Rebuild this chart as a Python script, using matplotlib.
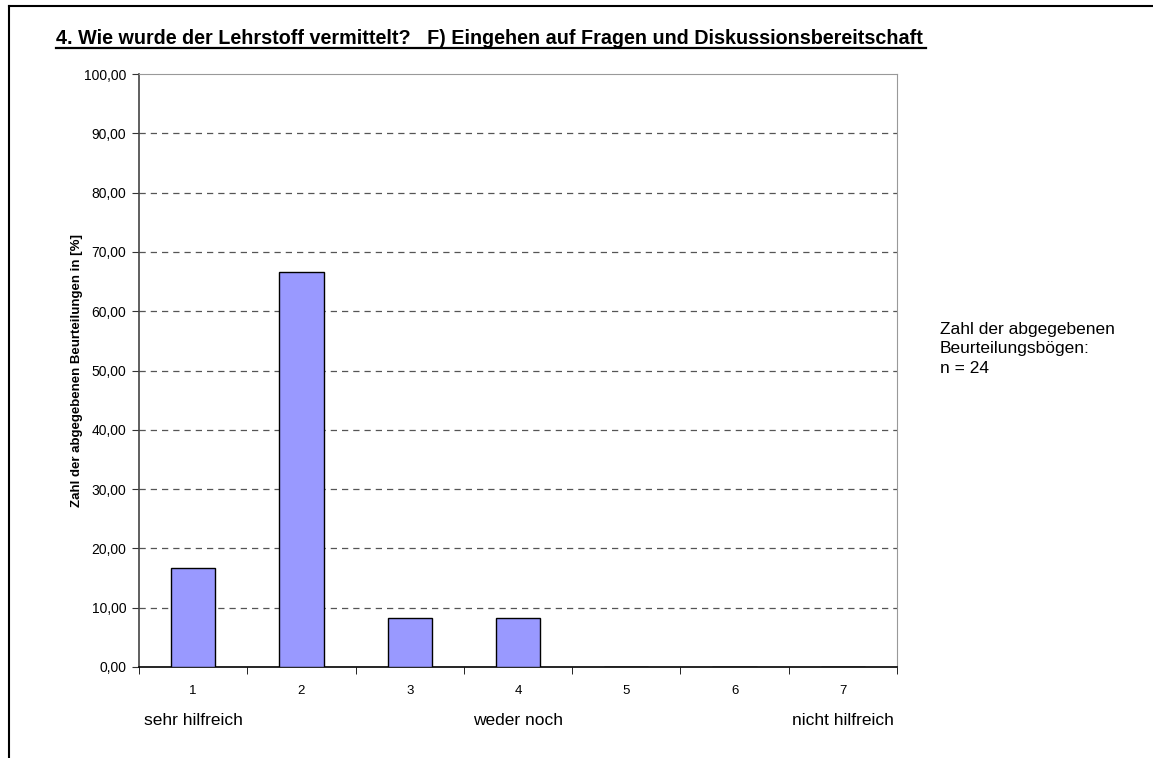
import matplotlib
matplotlib.use("Agg")
import matplotlib.pyplot as plt
import matplotlib.transforms as mtransforms
from matplotlib.lines import Line2D

plt.rcParams['font.family'] = ['Liberation Sans', 'DejaVu Sans']

# data: share of answers per grade (n = 24)
categories = ['1', '2', '3', '4', '5', '6', '7']
percent = [16.67, 66.67, 8.33, 8.33, 0.0, 0.0, 0.0]
scale_labels = {0: 'sehr hilfreich', 3: 'weder noch', 6: 'nicht hilfreich'}
y_ticks = [0, 10, 20, 30, 40, 50, 60, 70, 80, 90, 100]

title = '4. Wie wurde der Lehrstoff vermittelt?   F) Eingehen auf Fragen und Diskussionsbereitschaft'
y_label = 'Zahl der abgegebenen Beurteilungen in [%]'
note = 'Zahl der abgegebenen\nBeurteilungsbögen:\nn = 24'

W, H = 1153, 758
fig = plt.figure(figsize=(W / 100, H / 100), dpi=100)
fig.patch.set_facecolor('white')

# plot area in pixels
left, right, top, bottom = 139, 897, 74, 667
ax = fig.add_axes([left / W, 1 - bottom / H, (right - left) / W, (bottom - top) / H])

x = list(range(len(categories)))
ax.bar(x, percent, width=0.41, color='#9999FF', edgecolor='black', linewidth=1.0, zorder=3)

ax.set_xlim(-0.5, len(categories) - 0.5)
ax.set_ylim(0, 100)
ax.set_yticks(y_ticks)
ax.set_yticklabels([f'{v:.2f}'.replace('.', ',') for v in y_ticks], fontsize=10)
ax.set_xticks(x)
ax.set_xticklabels(categories, fontsize=9.5)
ax.tick_params(axis='x', length=0, pad=13)
ax.set_xticks([i - 0.5 for i in range(len(categories) + 1)], minor=True)
ax.tick_params(axis='x', which='minor', length=5, direction='out', color='black')
ax.tick_params(axis='y', length=5, direction='out', color='#333333', pad=4)

for v in y_ticks[1:-1]:
    ax.axhline(v, color='#555555', linestyle=(0, (5, 4)), linewidth=0.9, zorder=1)

ax.spines['left'].set_color('#444444')
ax.spines['left'].set_linewidth(1.2)
ax.spines['bottom'].set_color('black')
ax.spines['bottom'].set_linewidth(1.2)
ax.spines['top'].set_color('#999999')
ax.spines['right'].set_color('#999999')

ax.set_ylabel(y_label, fontsize=9.5, fontweight='bold', labelpad=1)

trans = mtransforms.blended_transform_factory(ax.transData, ax.transAxes)
for i, lbl in scale_labels.items():
    ax.text(i, -0.09, lbl, transform=trans, ha='center', va='center', fontsize=12.5)

fig.text(56 / W, 1 - 38 / H, title, fontsize=14.25, fontweight='bold', ha='left', va='center')
# underline for title
fig.add_artist(Line2D([56 / W, 926 / W], [1 - 47.5 / H, 1 - 47.5 / H], color='black', linewidth=1.6))

fig.text(940 / W, 1 - 349 / H, note, fontsize=12.5, ha='left', va='center', linespacing=1.4)

# outer frame
fig.add_artist(Line2D([8.5 / W, 1], [1 - 5.5 / H, 1 - 5.5 / H], color='black', linewidth=1.5))
fig.add_artist(Line2D([8.5 / W, 8.5 / W], [1 - 5.5 / H, 0], color='black', linewidth=1.5))

fig.savefig('out.png', dpi=100, facecolor='white')
